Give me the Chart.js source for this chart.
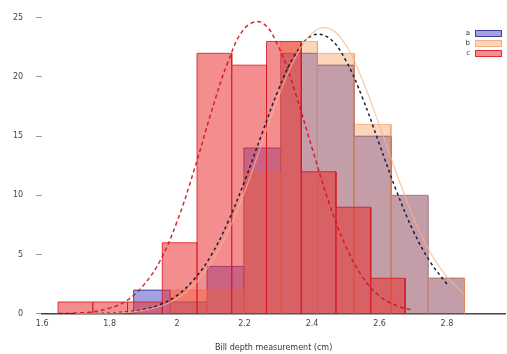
<!DOCTYPE html>
<html lang="en">
<head>
<meta charset="UTF-8">
<title>Histograma</title>
<script src="https://cdn.jsdelivr.net/npm/chart.js"></script>
<style>
    body { margin: 0; background: #fff; }
    #wrap { position: relative; width: 507px; height: 354px; }
    #legenda { position: absolute; right: 5px; top: 28px; font: 7px "DejaVu Sans", sans-serif; color: #333; }
    .item { display: flex; align-items: center; justify-content: flex-end; height: 10px; }
    .cor { display: inline-block; width: 25px; height: 5px; margin-left: 5px; }
</style>
</head>
<body>
<div id="wrap">
    <canvas id="grafico" width="507" height="354"></canvas>
    <div id="legenda"></div>
</div>

<script>
    // nomes das series (legenda)
    const nomes = ['a', 'b', 'c'];

    // histogramas: bordas dos bins e contagens
    const azulBordas = [1.871, 1.980, 2.089, 2.198, 2.307, 2.416, 2.525, 2.634, 2.743, 2.852];
    const azulContagem = [2, 1, 4, 14, 22, 21, 15, 10, 3];
    const laranjaBordas = [1.871, 1.980, 2.089, 2.198, 2.307, 2.416, 2.525, 2.634, 2.743, 2.852];
    const laranjaContagem = [0, 2, 2, 12, 23, 22, 16, 10, 3];
    const vermelhoBordas = [1.647, 1.750, 1.853, 1.956, 2.059, 2.162, 2.265, 2.368, 2.471, 2.574, 2.676];
    const vermelhoContagem = [1, 1, 1, 6, 22, 21, 23, 12, 9, 3];

    // curvas ajustadas
    const curvaX = [1.65, 1.70, 1.75, 1.80, 1.85, 1.90, 1.95, 2.00, 2.05, 2.10, 2.15, 2.20, 2.25,
                    2.30, 2.35, 2.40, 2.45, 2.50, 2.55, 2.60, 2.65, 2.70, 2.75, 2.80, 2.85];
    const curvaAzul = [0.0, 0.01, 0.02, 0.06, 0.16, 0.36, 0.78, 1.56, 2.9, 4.9, 7.7, 11.2, 15.1,
                       18.9, 21.9, 23.5, 23.3, 21.4, 18.2, 14.3, 10.4, 7.0, 4.4, 2.5, null];
    const curvaLaranja = [null, 0.01, 0.02, 0.05, 0.12, 0.29, 0.64, 1.3, 2.45, 4.3, 6.9, 10.3, 14.3,
                          18.3, 21.6, 23.7, 24.1, 22.7, 19.7, 15.9, 11.9, 8.2, 5.2, 3.1, 1.7];
    const curvaVermelha = [0.02, 0.06, 0.18, 0.48, 1.1, 2.4, 4.5, 7.8, 12.1, 16.9, 21.2, 24.1, 24.6,
                           22.6, 18.7, 14.0, 9.4, 5.7, 3.1, 1.5, 0.7, 0.3, null, null, null];

    const xTicks = [1.6, 1.8, 2.0, 2.2, 2.4, 2.6, 2.8];
    const yTicks = [0, 5, 10, 15, 20, 25];

    const cores = {
        azul: { fundo: 'rgba(70, 70, 200, 0.5)', borda: 'rgba(40, 40, 140, 0.8)' },
        laranja: { fundo: 'rgba(245, 150, 80, 0.4)', borda: 'rgba(240, 150, 90, 0.6)' },
        vermelho: { fundo: 'rgba(235, 50, 50, 0.55)', borda: 'rgba(215, 20, 30, 0.8)' }
    };

    // contorno de cada barra: sobe, anda, desce
    function barras(bordas, contagem) {
        const pts = [];
        contagem.forEach((c, i) => {
            pts.push({ x: bordas[i], y: 0 });
            pts.push({ x: bordas[i], y: c });
            pts.push({ x: bordas[i + 1], y: c });
            pts.push({ x: bordas[i + 1], y: 0 });
        });
        return pts;
    }

    function curva(valores) {
        return curvaX.map((x, i) => ({ x: x, y: valores[i] }));
    }

    function histo(nome, bordas, contagem, cor, ordem) {
        return {
            label: nome,
            data: barras(bordas, contagem),
            backgroundColor: cor.fundo,
            borderColor: cor.borda,
            borderWidth: 1,
            fill: 'origin',
            pointRadius: 0,
            tension: 0,
            order: ordem
        };
    }

    function linha(valores, cor, largura, tracejado) {
        return {
            label: '',
            data: curva(valores),
            borderColor: cor,
            borderWidth: largura,
            borderDash: tracejado,
            fill: false,
            pointRadius: 0,
            tension: 0.4,
            spanGaps: false,
            order: 0
        };
    }

    const fonte = { family: 'DejaVu Sans', size: 8 };

    new Chart(document.getElementById('grafico'), {
        type: 'line',
        data: {
            datasets: [
                histo(nomes[0], azulBordas, azulContagem, cores.azul, 3),
                histo(nomes[1], laranjaBordas, laranjaContagem, cores.laranja, 2),
                histo(nomes[2], vermelhoBordas, vermelhoContagem, cores.vermelho, 1),
                linha(curvaLaranja, 'rgba(245, 180, 140, 0.75)', 1.2, []),
                linha(curvaAzul, '#1c1c3a', 1.5, [3, 3]),
                linha(curvaVermelha, 'rgba(210, 20, 30, 0.9)', 1.5, [4, 3])
            ]
        },
        options: {
            responsive: false,
            animation: false,
            layout: { padding: { top: 15, right: 2, bottom: 1, left: 0 } },
            plugins: {
                legend: { display: false },
                tooltip: { enabled: false }
            },
            scales: {
                x: {
                    type: 'linear',
                    min: 1.6,
                    max: 2.972,
                    afterBuildTicks: axis => { axis.ticks = xTicks.map(v => ({ value: v })); },
                    ticks: {
                        font: fonte,
                        color: '#444',
                        padding: 5,
                        maxRotation: 0,
                        callback: v => String(Math.round(v * 10) / 10)
                    },
                    grid: { display: false, drawTicks: false },
                    border: { display: true, color: '#444', width: 1.5 },
                    title: {
                        display: true,
                        text: 'Bill depth measurement (cm)',
                        font: fonte,
                        color: '#333',
                        padding: { top: 10, bottom: 0 }
                    }
                },
                y: {
                    min: 0,
                    max: 25,
                    afterBuildTicks: axis => { axis.ticks = yTicks.map(v => ({ value: v })); },
                    ticks: { font: fonte, color: '#444', padding: 13 },
                    grid: { drawOnChartArea: false, drawTicks: true, tickLength: 6, color: '#999' },
                    border: { display: false }
                }
            }
        }
    });

    // legenda no canto superior direito
    const legenda = document.getElementById('legenda');
    [cores.azul, cores.laranja, cores.vermelho].forEach((cor, i) => {
        const item = document.createElement('div');
        item.className = 'item';
        item.innerHTML = '<span>' + nomes[i] + '</span><span class="cor" style="background:' + cor.fundo +
            ';border:1px solid ' + cor.borda + '"></span>';
        legenda.appendChild(item);
    });
</script>
</body>
</html>
